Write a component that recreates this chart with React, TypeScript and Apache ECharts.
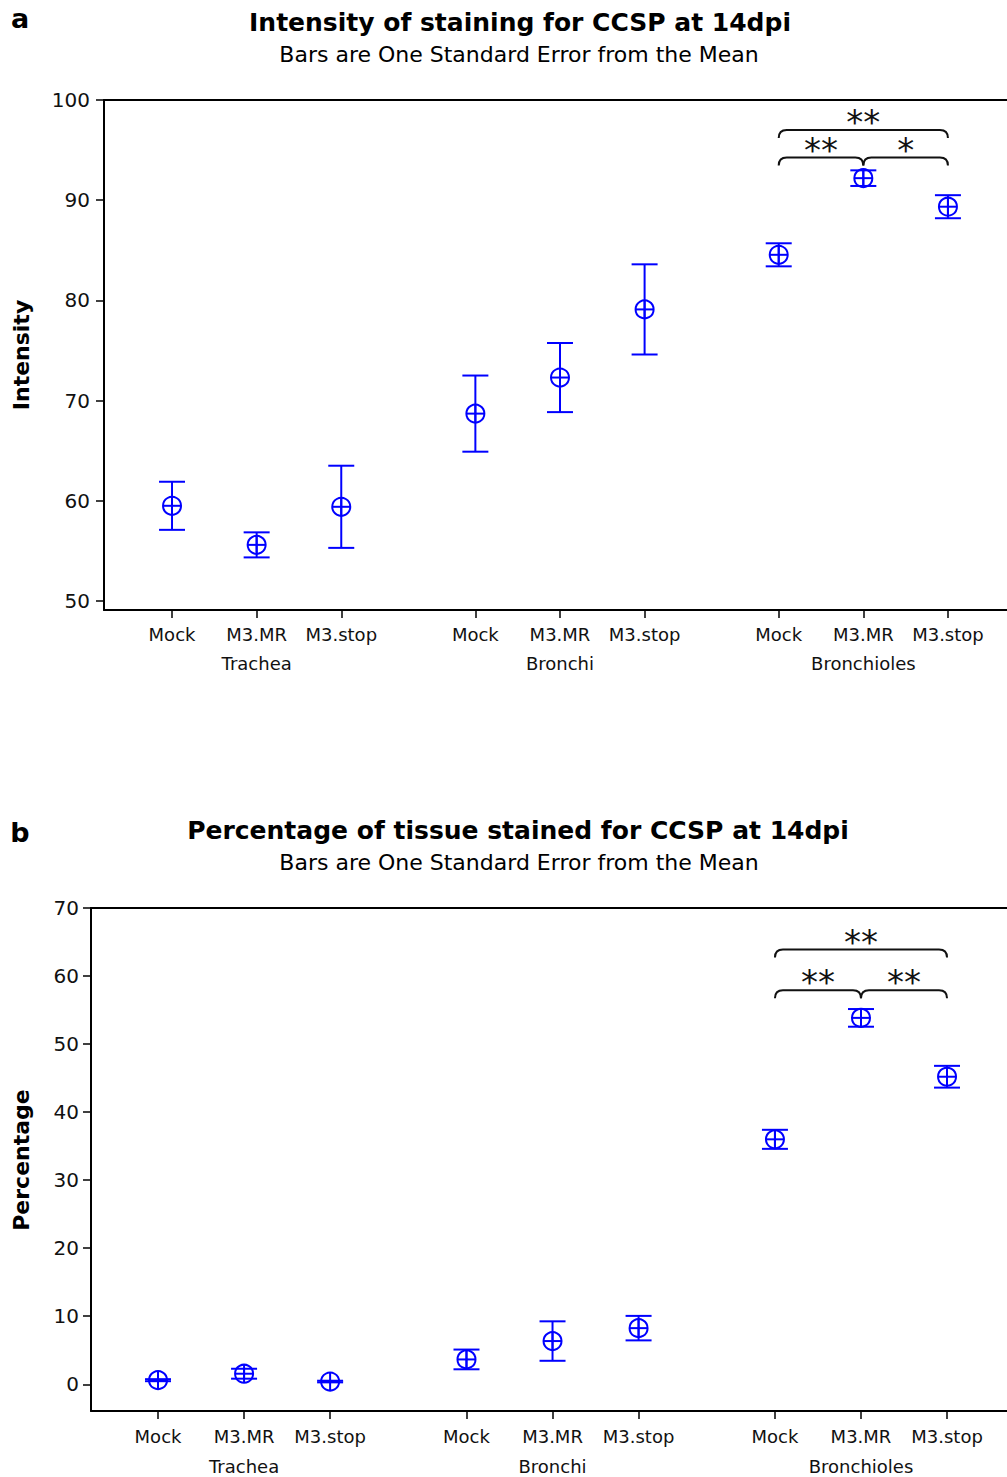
import React, { useEffect, useRef } from 'react';
import * as echarts from 'echarts';

// ---------- data ----------
const groups = ['Trachea', 'Bronchi', 'Bronchioles'];
const treatments = ['Mock', 'M3.MR', 'M3.stop'];

const intensityMean = [59.5, 55.6, 59.4, 68.7, 72.3, 79.1, 84.55, 92.2, 89.35];
const intensitySE = [2.4, 1.25, 4.1, 3.8, 3.45, 4.5, 1.15, 0.78, 1.15];

const percentMean = [0.6, 1.55, 0.4, 3.65, 6.35, 8.25, 36.0, 53.85, 45.2];
const percentSE = [0.15, 0.73, 0.12, 1.45, 2.9, 1.8, 1.4, 1.3, 1.6];

const intensityTicks = [50, 60, 70, 80, 90, 100];
const percentTicks = [0, 10, 20, 30, 40, 50, 60, 70];

// significance brackets: [fromIndex, toIndex, level, stars]
const intensitySig: [number, number, number, string][] = [
  [6, 8, 97.0, '**'],
  [6, 7, 94.25, '**'],
  [7, 8, 94.25, '*'],
];
const percentSig: [number, number, number, string][] = [
  [6, 8, 63.9, '**'],
  [6, 7, 57.9, '**'],
  [7, 8, 57.9, '**'],
];

// ---------- layout helpers ----------
const GROUP_STEP = 3.585;
const posOf = (i: number) => Math.floor(i / 3) * GROUP_STEP + (i % 3);
const positions = Array.from({ length: groups.length * treatments.length }, (_, i) => posOf(i));
const groupCenters = groups.map((_, g) => g * GROUP_STEP + 1);
const findIdx = (arr: number[], v: number) => arr.findIndex((p) => Math.abs(p - v) < 1e-6);

const FONT = 'DejaVu Sans';
const BLUE = '#0000ff';
const INK = '#111';

const errorRender = (params: any, api: any) => {
  const x = api.value(0);
  const m = api.value(1);
  const se = api.value(2);
  const c = api.coord([x, m]);
  const hi = api.coord([x, m + se]);
  const lo = api.coord([x, m - se]);
  const cap = 13;
  const r = 9;
  const style = { stroke: BLUE, lineWidth: 2, fill: 'none' };
  return {
    type: 'group',
    children: [
      { type: 'line', shape: { x1: c[0], y1: hi[1], x2: c[0], y2: lo[1] }, style },
      { type: 'line', shape: { x1: c[0] - cap, y1: hi[1], x2: c[0] + cap, y2: hi[1] }, style },
      { type: 'line', shape: { x1: c[0] - cap, y1: lo[1], x2: c[0] + cap, y2: lo[1] }, style },
      { type: 'circle', shape: { cx: c[0], cy: c[1], r }, style },
      { type: 'line', shape: { x1: c[0] - r, y1: c[1], x2: c[0] + r, y2: c[1] }, style },
      { type: 'line', shape: { x1: c[0], y1: c[1] - r, x2: c[0], y2: c[1] + r }, style },
    ],
  };
};

const makeBracketRender = (sig: [number, number, number, string][]) => (params: any, api: any) => {
  const x1 = api.value(0);
  const x2 = api.value(1);
  const y = api.value(2);
  const label = sig[params.dataIndex][3];
  const p1 = api.coord([x1, y]);
  const p2 = api.coord([x2, y]);
  const d = 8;
  const r = 8;
  const pathData =
    `M${p1[0]} ${p1[1] + d} Q${p1[0]} ${p1[1]} ${p1[0] + r} ${p1[1]} ` +
    `L${p2[0] - r} ${p2[1]} Q${p2[0]} ${p2[1]} ${p2[0]} ${p2[1] + d}`;
  return {
    type: 'group',
    children: [
      { type: 'path', shape: { pathData }, style: { stroke: INK, lineWidth: 2, fill: 'none' } },
      {
        type: 'text',
        x: (p1[0] + p2[0]) / 2,
        y: p1[1] - 8,
        style: { text: label, fontSize: 34, fontFamily: FONT, fill: INK, align: 'center', verticalAlign: 'middle' },
      },
    ],
  };
};

const axisLine = { show: true, onZero: false, lineStyle: { color: '#000', width: 2 } };
const tickStyle = { color: '#000', width: 1.5 };
const labelBase = { fontSize: 18, fontFamily: FONT, color: INK };
const yLabelBase = { fontSize: 20, fontFamily: FONT, color: INK };

const buildX = (grid: number, min: number, max: number, tickMargin: number, groupMargin: number) => [
  {
    gridIndex: grid, type: 'value', min, max, position: 'bottom',
    axisLine,
    axisTick: { show: true, customValues: positions, length: 8, lineStyle: tickStyle },
    axisLabel: {
      ...labelBase, show: true, customValues: positions, margin: tickMargin,
      formatter: (v: number) => { const i = findIdx(positions, v); return i >= 0 ? treatments[i % 3] : ''; },
    },
    splitLine: { show: false },
  },
  {
    gridIndex: grid, type: 'value', min, max, position: 'bottom',
    axisLine: { show: false }, axisTick: { show: false },
    axisLabel: {
      ...labelBase, show: true, customValues: groupCenters, margin: groupMargin,
      formatter: (v: number) => { const i = findIdx(groupCenters, v); return i >= 0 ? groups[i] : ''; },
    },
    splitLine: { show: false },
  },
  {
    gridIndex: grid, type: 'value', min, max, position: 'top',
    axisLine, axisTick: { show: false }, axisLabel: { show: false }, splitLine: { show: false },
  },
];

const buildY = (grid: number, min: number, max: number, ticks: number[], margin: number) => ({
  gridIndex: grid, type: 'value', min, max,
  axisLine,
  axisTick: { show: true, customValues: ticks, length: 8, lineStyle: tickStyle },
  axisLabel: { ...yLabelBase, show: true, customValues: ticks, margin },
  splitLine: { show: false },
});

const txt = (text: string, x: number, y: number, font: string, extra: any = {}) => ({
  type: 'text', x, y, ...extra,
  style: { text, font, fill: '#000', align: 'center', verticalAlign: 'middle' },
});

export default function App() {
  const ref = useRef<HTMLDivElement>(null);
  useEffect(() => {
    const chart = echarts.init(ref.current!, null, { renderer: 'svg' });
    const option: any = {
      animation: false,
      backgroundColor: '#fff',
      grid: [
        { left: 104, top: 100, right: 0, height: 510 },
        { left: 91, top: 908, right: 0, height: 503 },
      ],
      xAxis: [
        ...buildX(0, -0.804, 9.868, 15, 44),
        ...buildX(1, -0.779, 9.867, 16, 46),
      ],
      yAxis: [
        buildY(0, 49.1, 100, intensityTicks, 14),
        buildY(1, -3.93, 70, percentTicks, 12),
      ],
      series: [
        {
          type: 'custom', xAxisIndex: 0, yAxisIndex: 0, clip: false,
          data: positions.map((p, i) => [p, intensityMean[i], intensitySE[i]]),
          encode: { x: 0, y: 1 }, renderItem: errorRender,
        },
        {
          type: 'custom', xAxisIndex: 0, yAxisIndex: 0, clip: false,
          data: intensitySig.map((s) => [posOf(s[0]), posOf(s[1]), s[2]]),
          encode: { x: [0, 1], y: 2 }, renderItem: makeBracketRender(intensitySig),
        },
        {
          type: 'custom', xAxisIndex: 3, yAxisIndex: 1, clip: false,
          data: positions.map((p, i) => [p, percentMean[i], percentSE[i]]),
          encode: { x: 0, y: 1 }, renderItem: errorRender,
        },
        {
          type: 'custom', xAxisIndex: 3, yAxisIndex: 1, clip: false,
          data: percentSig.map((s) => [posOf(s[0]), posOf(s[1]), s[2]]),
          encode: { x: [0, 1], y: 2 }, renderItem: makeBracketRender(percentSig),
        },
      ],
      graphic: [
        txt('a', 20, 18, 'bold 27px "DejaVu Sans"'),
        txt('Intensity of staining for CCSP at 14dpi', 520, 22, 'bold 25px "DejaVu Sans"'),
        txt('Bars are One Standard Error from the Mean', 519, 54, '22px "DejaVu Sans"'),
        txt('Intensity', 21, 355, 'bold 22px "DejaVu Sans"', { rotation: Math.PI / 2 }),
        txt('b', 20, 832, 'bold 27px "DejaVu Sans"'),
        txt('Percentage of tissue stained for CCSP at 14dpi', 518, 830, 'bold 25px "DejaVu Sans"'),
        txt('Bars are One Standard Error from the Mean', 519, 862, '22px "DejaVu Sans"'),
        txt('Percentage', 21, 1160, 'bold 22px "DejaVu Sans"', { rotation: Math.PI / 2 }),
      ],
    };
    chart.setOption(option);
    return () => chart.dispose();
  }, []);
  return <div ref={ref} style={{ position: 'absolute', left: 0, top: 0, width: 1007, height: 1477 }} />;
}
